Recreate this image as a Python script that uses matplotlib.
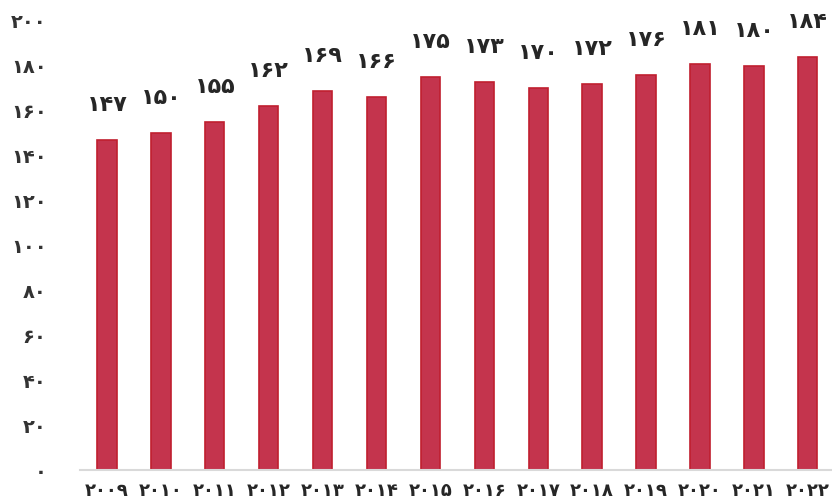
import matplotlib
matplotlib.use('Agg')
import matplotlib.pyplot as plt

years = [2009, 2010, 2011, 2012, 2013, 2014, 2015, 2016, 2017, 2018, 2019, 2020, 2021, 2022]
values = [147, 150, 155, 162, 169, 166, 175, 173, 170, 172, 176, 181, 180, 184]
y_ticks = [0, 20, 40, 60, 80, 100, 120, 140, 160, 180, 200]

PERSIAN = str.maketrans('0123456789', '۰۱۲۳۴۵۶۷۸۹')


def fa(n):
    return str(n).translate(PERSIAN)


plt.rcParams['font.family'] = ['DejaVu Sans']

fig = plt.figure(figsize=(8.32, 5.04), dpi=100)
ax = fig.add_axes([80 / 832, 1 - 470 / 504, 1 - 80 / 832, (470 - 21) / 504])

x = list(range(len(years)))
ax.bar(x, values, width=0.36, color='#C4344D', edgecolor='#C01F2F', linewidth=1.2, zorder=2)

# value labels float well above the bars
for xi, v in zip(x, values):
    ax.annotate(fa(v), (xi, v), xytext=(0, 18), textcoords='offset points',
                ha='center', va='bottom', fontsize=16, fontweight='bold',
                color='#262626')

ax.set_xlim(-0.5, 13.45)
ax.set_ylim(0, 200)
ax.set_yticks(y_ticks)
ax.set_yticklabels([fa(t) for t in y_ticks], fontsize=14, fontweight='bold', color='#333333')
ax.set_xticks(x)
ax.set_xticklabels([fa(y) for y in years], fontsize=13, fontweight='bold', color='#262626')

for s in ['top', 'right', 'left']:
    ax.spines[s].set_visible(False)
ax.spines['bottom'].set_color('#D9D9D9')
ax.spines['bottom'].set_linewidth(1.5)
ax.tick_params(axis='both', length=0)
ax.tick_params(axis='y', pad=24)
ax.tick_params(axis='x', pad=9)

fig.savefig('out.png', dpi=100)
